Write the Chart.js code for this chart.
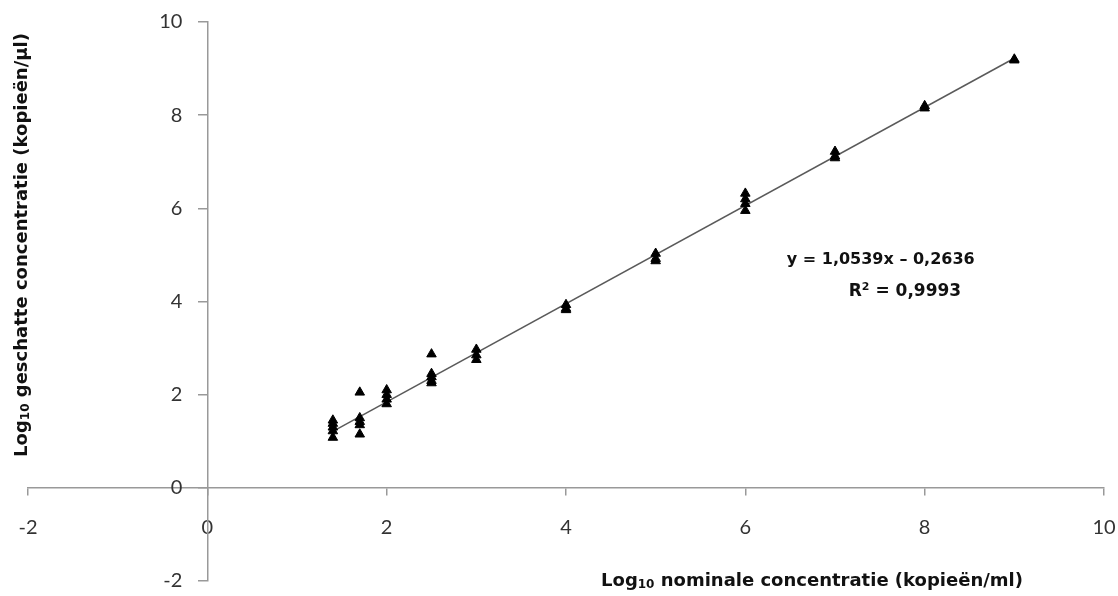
<!DOCTYPE html>
<html lang="nl">

<head>
    <meta charset="UTF-8">
    <title>Log10 geschatte vs nominale concentratie</title>
    <script src="https://cdn.jsdelivr.net/npm/chart.js"></script>
    <style>
        html, body {
            margin: 0;
            padding: 0;
            background: #fff;
        }

        .chart-box {
            width: 1118px;
            height: 596px;
        }
    </style>
</head>

<body>
    <div class="chart-box">
        <canvas id="stdCurve"></canvas>
    </div>

    <script>
        // nominale concentratie (log10) per replicaat
        const nominal = [
            1.4, 1.4, 1.4, 1.4, 1.4,
            1.7, 1.7, 1.7, 1.7, 1.7,
            2, 2, 2, 2,
            2.5, 2.5, 2.5, 2.5, 2.5,
            3, 3, 3,
            4, 4, 4,
            5, 5, 5,
            6, 6, 6, 6,
            7, 7, 7,
            8, 8,
            9, 9
        ];
        // geschatte concentratie (log10)
        const estimated = [
            1.45, 1.38, 1.30, 1.22, 1.08,
            2.05, 1.50, 1.42, 1.35, 1.15,
            2.10, 2.00, 1.90, 1.80,
            2.87, 2.45, 2.38, 2.30, 2.25,
            2.97, 2.85, 2.75,
            3.93, 3.85, 3.82,
            5.03, 4.92, 4.87,
            6.32, 6.20, 6.10, 5.95,
            7.22, 7.12, 7.08,
            8.20, 8.15,
            9.20, 9.18
        ];

        // trendlijn
        const slope = 1.0539;
        const intercept = -0.2636;
        const trendRange = [1.4, 9];
        const eqLabel = 'y = 1,0539x \u2013 0,2636';
        const r2Label = ' = 0,9993';

        const axisTicks = [-2, 0, 2, 4, 6, 8, 10];

        const points = nominal.map((x, i) => ({ x: x, y: estimated[i] }));
        const trend = trendRange.map(x => ({ x: x, y: slope * x + intercept }));

        // tekst met subscript / superscript
        function drawParts(ctx, parts, x, y) {
            let total = 0;
            parts.forEach(p => {
                ctx.font = p.font;
                total += ctx.measureText(p.text).width;
            });
            let cx = x - total / 2;
            parts.forEach(p => {
                ctx.font = p.font;
                ctx.fillText(p.text, cx, y + (p.dy || 0));
                cx += ctx.measureText(p.text).width;
            });
        }

        const labelsPlugin = {
            id: 'labels',
            afterDraw(chart) {
                const ctx = chart.ctx;
                const xs = chart.scales.x;
                const ys = chart.scales.y;
                const big = 'bold 18px "DejaVu Sans"';
                const small = 'bold 12px "DejaVu Sans"';
                ctx.save();
                ctx.fillStyle = '#111';
                ctx.textBaseline = 'middle';
                ctx.textAlign = 'left';

                // x-as titel
                drawParts(ctx, [
                    { text: 'Log', font: big },
                    { text: '10', font: small, dy: 4 },
                    { text: ' nominale concentratie (kopieën/ml)', font: big }
                ], 812, 581);

                // y-as titel
                ctx.save();
                ctx.translate(22, 245);
                ctx.rotate(-Math.PI / 2);
                drawParts(ctx, [
                    { text: 'Log', font: big },
                    { text: '10', font: small, dy: 4 },
                    { text: ' geschatte concentratie (kopieën/µl)', font: big }
                ], 0, 0);
                ctx.restore();

                // vergelijking
                const eqFont = 'bold 16px "DejaVu Sans"';
                drawParts(ctx, [{ text: eqLabel, font: eqFont }],
                    xs.getPixelForValue(7.51), ys.getPixelForValue(4.89));
                const r2Font = 'bold 17px "DejaVu Sans"';
                drawParts(ctx, [
                    { text: 'R', font: r2Font },
                    { text: '2', font: 'bold 11px "DejaVu Sans"', dy: -5 },
                    { text: r2Label, font: r2Font }
                ], xs.getPixelForValue(7.78), ys.getPixelForValue(4.21));
                ctx.restore();
            }
        };

        new Chart(document.getElementById('stdCurve'), {
            type: 'scatter',
            data: {
                datasets: [{
                    label: 'Replicaten',
                    data: points,
                    pointStyle: 'triangle',
                    pointRadius: 5.5,
                    backgroundColor: '#000',
                    borderColor: '#000',
                    borderWidth: 1
                }, {
                    label: 'Trend',
                    type: 'line',
                    data: trend,
                    borderColor: '#5a5a5a',
                    borderWidth: 1.5,
                    pointRadius: 0,
                    fill: false
                }]
            },
            options: {
                responsive: true,
                maintainAspectRatio: false,
                animation: false,
                layout: {
                    padding: { left: 28, right: 14, top: 22, bottom: 15 }
                },
                plugins: {
                    legend: { display: false },
                    tooltip: { enabled: false }
                },
                scales: {
                    x: {
                        type: 'linear',
                        min: -2,
                        max: 10,
                        position: { y: 0 },
                        afterBuildTicks: axis => {
                            axis.ticks = axisTicks.map(v => ({ value: v }));
                        },
                        afterFit: axis => {
                            axis.paddingLeft = 0;
                            axis.paddingRight = 0;
                        },
                        border: { display: true, color: '#999', width: 1.5 },
                        grid: { drawOnChartArea: false, drawTicks: true, tickLength: 7, color: '#999', lineWidth: 1.5 },
                        ticks: {
                            padding: 21,
                            color: '#333',
                            font: { family: 'Lato', size: 20 },
                            maxRotation: 0,
                            autoSkip: false
                        }
                    },
                    y: {
                        type: 'linear',
                        min: -2,
                        max: 10,
                        position: { x: 0 },
                        afterBuildTicks: axis => {
                            axis.ticks = axisTicks.map(v => ({ value: v }));
                        },
                        afterFit: axis => {
                            axis.paddingTop = 0;
                            axis.paddingBottom = 0;
                        },
                        border: { display: true, color: '#999', width: 1.5 },
                        grid: { drawOnChartArea: false, drawTicks: true, tickLength: 9, color: '#999', lineWidth: 1.5 },
                        ticks: {
                            color: '#333',
                            font: { family: 'Lato', size: 20 },
                            autoSkip: false,
                            callback: v => v + '\u2003\u2002'
                        }
                    }
                }
            },
            plugins: [labelsPlugin]
        });
    </script>
</body>

</html>
